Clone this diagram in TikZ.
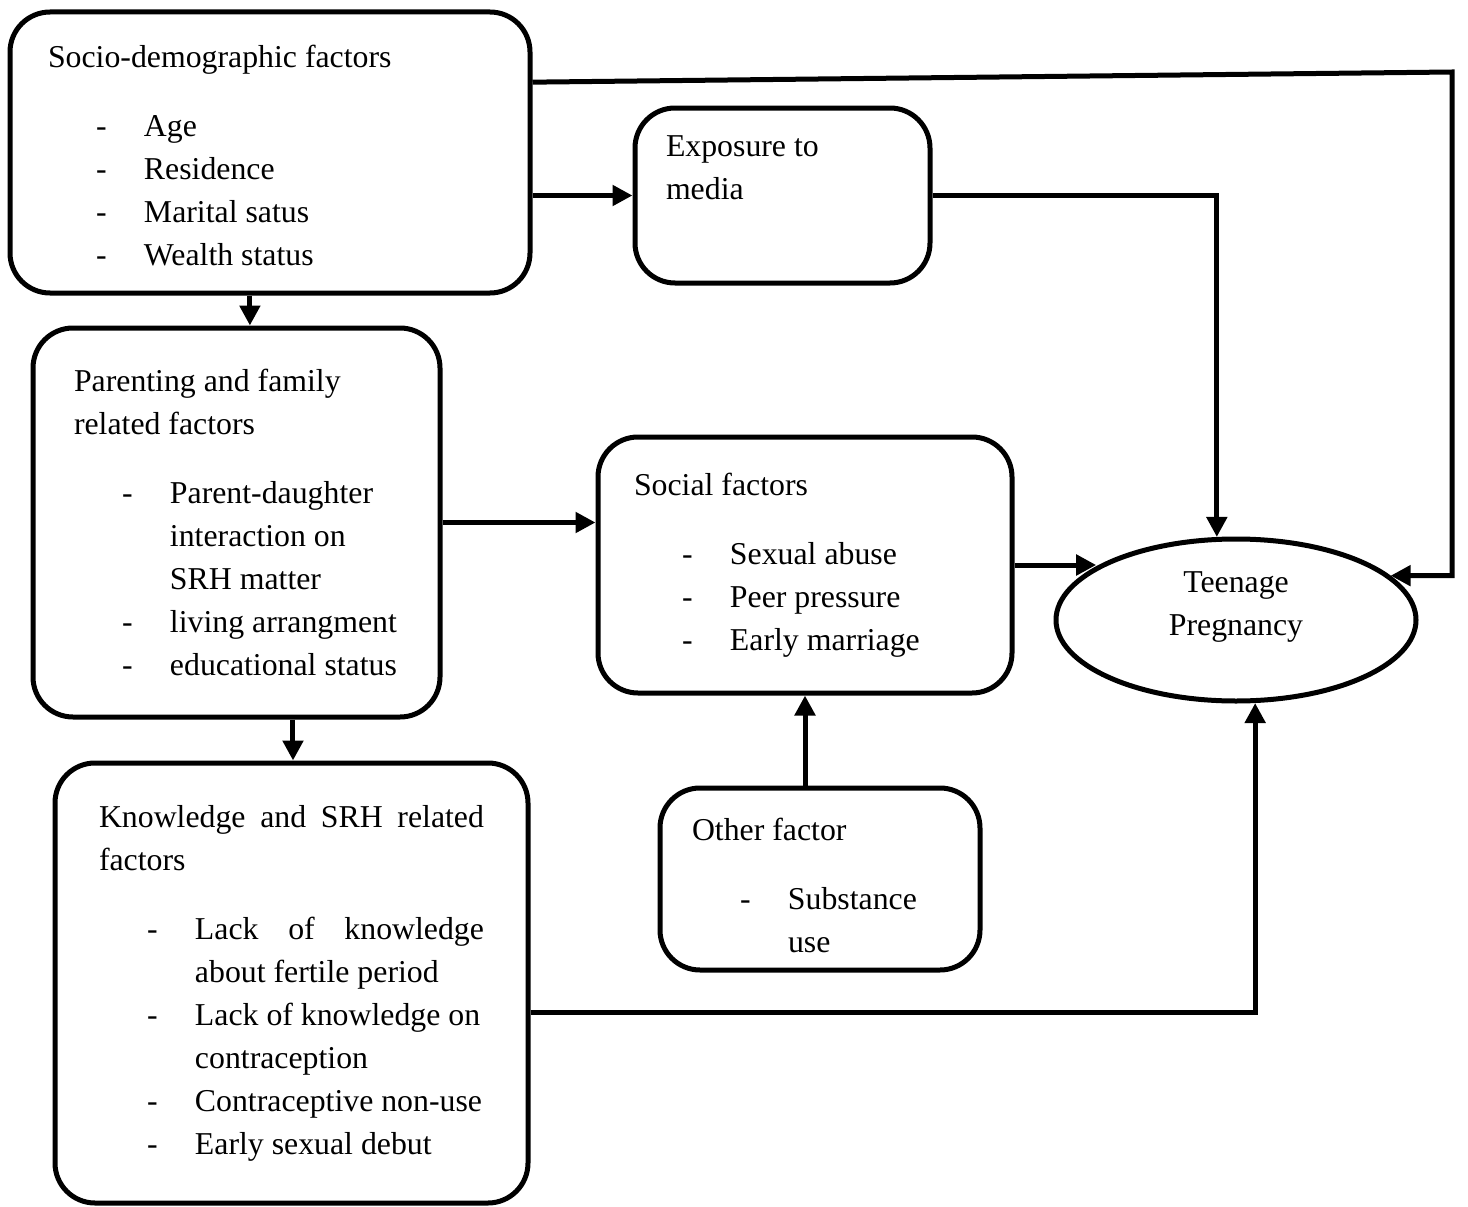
\documentclass[tikz,border=0pt]{standalone}
\usepackage{fontspec}
\setmainfont{Liberation Serif}
\usetikzlibrary{arrows.meta,shapes.geometric}
\newcommand{\itm}[1]{\makebox[96pt][l]{\hspace*{48pt}-}\mbox{#1}}
\newcommand{\cnt}[1]{\hspace*{96pt}\mbox{#1}}
\begin{document}
\begin{tikzpicture}[x=1pt,y=-1pt,
    font=\fontsize{31.8pt}{43pt}\selectfont,
    every node/.style={execute at begin node={\spaceskip=0pt\xspaceskip=0pt}},
    factor/.style={draw,line width=5pt,rounded corners=40pt,anchor=north west,align=left},
    arr/.style={line width=5pt,-{Triangle[length=20pt,width=20pt]}}]
                \useasboundingbox (0,0) rectangle (1468,1207);

                \node[factor,minimum height=281,inner xsep=38pt,text width=444pt] (socio) at (7.5,9.5) {
                    \rule{0pt}{28pt}Socio-demographic factors\\[26pt]
                    \itm{Age}\\ \itm{Residence}\\ \itm{Marital satus}\\ \itm{Wealth status}};
                \node[factor,minimum height=175,inner xsep=31pt,text width=233pt] (media) at (632.5,105.5) {
                    Exposure to\\ media\\[12pt] \mbox{}};
                \node[factor,minimum height=389,inner xsep=41pt,text width=325pt] (parent) at (30.5,325.5) {
                    Parenting and family\\ related factors\\[26pt]
                    \itm{Parent-daughter}\\ \cnt{interaction on}\\ \cnt{SRH matter}\\
                    \itm{living arrangment}\\ \itm{educational status}};
                \node[factor,minimum height=256,inner xsep=36pt,text width=342pt] (social) at (595.5,434.5) {
                    Social factors\\[26pt]
                    \itm{Sexual abuse}\\ \itm{Peer pressure}\\ \itm{Early marriage}};
                \node[factor,minimum height=182,inner xsep=32pt,text width=256pt] (other) at (657.5,785.5) {
                    \rule{0pt}{35pt}Other factor\\[26pt]
                    \itm{Substance}\\ \cnt{use}};
                \node[factor,minimum height=440,inner xsep=44pt,text width=385pt] (know) at (52.5,760.5) {
                    \hbox to 385pt{Knowledge\hfill and\hfill SRH\hfill related}\\ factors\\[26pt]
                    \itm{\hbox to 289pt{Lack\hfill of\hfill knowledge}}\\ \cnt{about fertile period}\\
                    \itm{Lack of knowledge on}\\ \cnt{contraception}\\
                    \itm{Contraceptive non-use}\\ \itm{Early sexual debut}};
                \node[draw,ellipse,line width=5pt,minimum width=360,minimum height=162,inner sep=0pt,align=center,text depth=33pt] (teen) at (1236,620) {
                    Teenage\\ Pregnancy};

                \coordinate (c1) at (1452,72);

                \draw[arr] (socio.15) -- (c1) |- (teen.16);
                \draw[arr] (socio.east |- media.west) -- (media.west);
                \draw[arr] (media.east) -| (teen.103);
                \draw[arr] (socio.262) -- (socio.262 |- parent.north);
                \draw[arr] (parent.286) -- (parent.286 |- know.north);
                \draw[arr] (parent.east) -- (parent.east -| social.west);
                \draw[arr] (social.east) -- (social.east -| teen.159);
                \draw[arr] (social.south |- other.north) -- (social.south);
                \draw[arr] (know.353) -| (teen.283);
            \end{tikzpicture}
\end{document}
